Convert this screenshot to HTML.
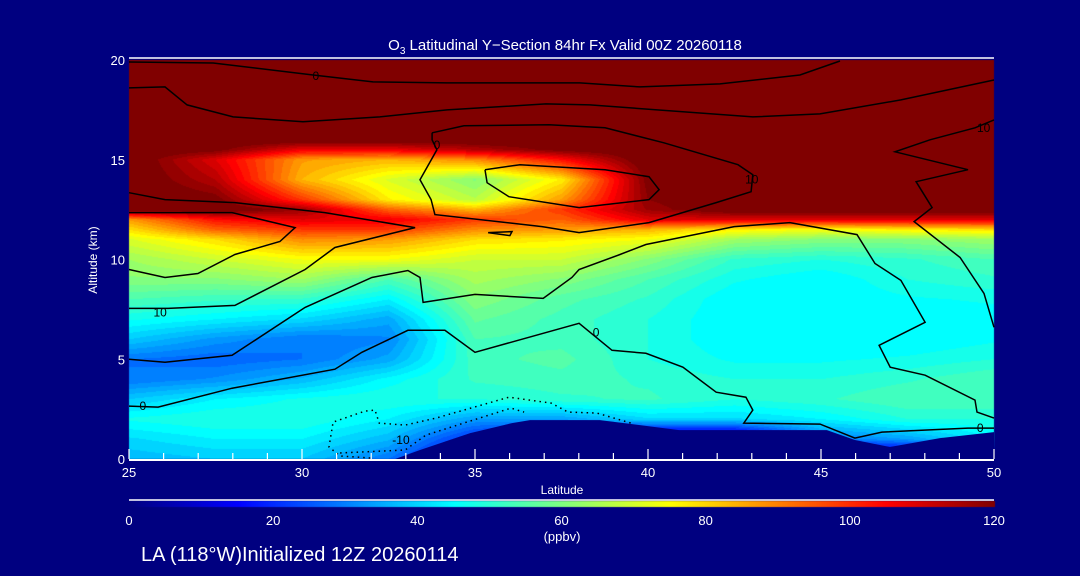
<!DOCTYPE html>
<html><head><meta charset="utf-8">
<style>
html,body{margin:0;padding:0;background:#000080;}
#wrap{position:relative;width:1080px;height:576px;background:#000080;overflow:hidden;font-family:"Liberation Sans",sans-serif;}
canvas,svg{position:absolute;left:0;top:0;}
</style></head>
<body>
<div id="wrap">
<canvas id="cv" width="1080" height="576"></canvas>
<svg id="sv" width="1080" height="576" xmlns="http://www.w3.org/2000/svg"></svg>
</div>
<script>
const lats = [25,27.5,30,32.5,35,37.5,40,42.5,45,47.5,50];
const alts = [0,1,2,3,4,5,6,7,8,9,10,11,11.5,12,12.5,13,14,15,15.5,16,18,20];
const o3 = [
[38,40,40,30,10,0,0,0,0,0,0],
[42,45,45,38,20,10,0,0,30,35,45],
[48,50,50,45,35,35,42,42,45,50,50],
[40,45,48,50,50,52,53,50,52,55,55],
[30,33,38,46,53,54,52,50,50,52,55],
[30,28,30,36,54,56,50,47,47,48,50],
[40,34,30,32,55,54,50,45,45,45,47],
[48,45,42,36,58,54,50,45,45,45,46],
[55,53,52,45,62,56,52,45,45,47,48],
[62,62,65,55,66,62,55,48,45,50,52],
[65,70,75,75,70,70,62,52,50,52,55],
[72,80,90,88,80,78,75,65,62,62,65],
[80,95,100,100,90,88,85,78,75,78,80],
[88,105,110,108,100,95,110,110,110,110,110],
[125,125,118,95,85,100,118,125,125,125,125],
[125,122,100,78,68,88,120,125,125,125,125],
[125,115,85,72,62,78,122,125,125,125,125],
[125,110,88,85,90,105,125,125,125,125,125],
[125,122,108,108,115,122,125,125,125,125,125],
[125,125,125,125,125,125,125,125,125,125,125],
[125,125,125,125,125,125,125,125,125,125,125],
[125,125,125,125,125,125,125,125,125,125,125]
];
const terrain = [[32.69,0],[33.41,0.45],[34.86,1.3],[36.07,1.8],[36.59,1.95],[38.61,1.95],[40.9,1.45],[45.17,1.45],[45.98,0.95],[46.99,0.6],[48.44,1.05],[50,1.35]];
const contourA = [[25,19.9],[27.43,19.85],[30.32,19.25],[32.05,18.9],[34.19,18.85],[38.03,18.85],[39.77,18.65],[42.08,18.8],[44.39,19.25],[45.55,19.95]];
const contourB = [[25,18.6],[26.04,18.65],[26.68,17.75],[28.01,17.15],[30.03,16.9],[32.25,17.15],[34.19,17.5],[37.05,17.8],[38.32,17.75],[43.03,17.15],[44.97,17.3],[47.31,18.0],[50,19.0]];
const contourC = [[33.76,16.35],[34.68,16.7],[37.14,16.75],[38.76,16.6],[40.46,15.85],[42.6,14.75],[43.03,14.25],[42.98,13.4],[41.97,12.85],[40.03,11.85],[38.01,11.35],[36.94,11.65],[33.84,12.25],[33.73,13.0],[33.41,14.0],[33.9,15.5],[33.76,16.0],[33.76,16.35]];
const contourD = [[35.29,14.5],[36.3,14.75],[38.76,14.5],[40.03,14.15],[40.32,13.5],[40.03,13.0],[38.01,12.6],[35.98,13.15],[35.35,13.85],[35.29,14.5]];
const contourE = [[25,13.35],[26.04,13.0],[28.06,12.85],[30.66,12.35],[33.27,11.6],[30.95,10.6],[30.09,9.5],[28.06,7.7],[26.13,7.55],[25,7.55]];
const contourF = [[25,12.35],[27.98,12.35],[29.8,11.6],[29.36,10.9],[28.06,10.25],[26.99,9.3],[26.04,9.1],[25,9.5]];
const contourG = [[35.38,11.35],[36.07,11.4],[36.01,11.2],[35.38,11.35]];
const contourH = [[25,5.0],[26.04,4.85],[27.98,5.2],[30.09,7.6],[32.02,9.1],[33.06,9.45],[33.41,9.1],[33.5,7.85],[35,8.25],[36.97,8.05],[37.8,9.1],[38.01,9.5],[39.19,10.25],[39.94,10.75],[42.49,11.65],[44.1,11.85],[46.04,11.25],[46.56,9.8],[47.31,8.95],[48.01,6.85],[46.68,5.7],[47.0,4.6],[48.01,4.2],[49.45,2.95],[49.51,2.35],[50,2.05]];
const contourI = [[25,2.65],[25.84,2.6],[27.98,3.55],[30.95,4.5],[31.73,5.35],[33.06,6.45],[34.13,6.45],[35,5.35],[38.01,6.8],[38.96,5.45],[39.94,5.3],[41.01,4.6],[41.97,3.35],[42.83,3.1],[43.03,2.45],[42.77,1.8],[44.97,1.75],[45.98,1.05],[46.76,1.35],[49.25,1.55],[50,1.55]];
const contourJ = [[50,17.0],[49.45,16.6],[48.15,16.0],[47.14,15.4],[49.25,14.5],[47.75,13.9],[48.21,12.6],[47.69,11.9],[49.02,10.1],[49.71,8.3],[50,6.6]];
const dottedOuter = [[31.97,0.05],[31.1,0.15],[30.78,0.6],[30.9,1.85],[31.82,2.4],[32.11,2.45],[32.23,1.8],[32.98,1.7],[33.87,2.05],[35.98,3.1],[37.2,2.8],[37.69,2.35],[38.53,2.3],[39.51,1.8]];
const dottedInner = [[31.1,0.3],[32.98,0.45],[33.58,1.2],[36.04,2.55],[36.42,2.35]];
const contourLabels = [["0",30.4,19.2],["0",33.9,15.75],["10",43.0,14.0],["10",49.7,16.6],["10",25.9,7.35],["0",38.5,6.35],["0",25.4,2.65],["0",49.6,1.55],["-10",32.86,0.95]];
const xTicks = [25,30,35,40,45,50];
const yTicks = [0,5,10,15,20];
const cbTicks = [0,20,40,60,80,100,120];

const X0=129,X1=994,Y0=459,Y1=60;
const xs = lat => X0 + (lat-25)/25*(X1-X0);
const ys = alt => Y0 - alt/20*(Y0-Y1);
function jet(v){
  let t=Math.max(0,Math.min(1,v/120));
  const c=a=>Math.round(255*Math.max(0,Math.min(1,a)));
  return [c(1.5-Math.abs(4*t-3)),c(1.5-Math.abs(4*t-2)),c(1.5-Math.abs(4*t-1))];
}
function field(lat,alt){
  let i=Math.min(lats.length-2,Math.max(0,Math.floor((lat-25)/2.5)));
  let fx=(lat-lats[i])/(lats[i+1]-lats[i]);
  let j=0; while(j<alts.length-2 && alt>alts[j+1]) j++;
  let fy=(alt-alts[j])/(alts[j+1]-alts[j]);
  fx=Math.max(0,Math.min(1,fx)); fy=Math.max(0,Math.min(1,fy));
  const a=o3[j][i],b=o3[j][i+1],c=o3[j+1][i],d=o3[j+1][i+1];
  return (a*(1-fx)+b*fx)*(1-fy)+(c*(1-fx)+d*fx)*fy;
}
const cvs=document.getElementById('cv'),ctx=cvs.getContext('2d');
const imgData=ctx.createImageData(X1-X0,Y0-Y1);
for(let py=0;py<Y0-Y1;py++){for(let px=0;px<X1-X0;px++){
  const lat=25+(px+0.5)/(X1-X0)*25, alt=(Y0-Y1-py-0.5)/(Y0-Y1)*20;
  let v=field(lat,alt); v=Math.floor(v/2.5)*2.5;
  const c=jet(v),k=(py*(X1-X0)+px)*4;
  imgData.data[k]=c[0];imgData.data[k+1]=c[1];imgData.data[k+2]=c[2];imgData.data[k+3]=255;
}}
ctx.putImageData(imgData,X0,Y1);
for(let px=X0;px<=X1;px++){const c=jet((px-X0)/(X1-X0)*120);ctx.fillStyle=`rgb(${c[0]},${c[1]},${c[2]})`;ctx.fillRect(px,501,1,6);}

const svgEl=document.getElementById('sv');const NS='http://www.w3.org/2000/svg';
function mk(tag,attrs,parent){const e=document.createElementNS(NS,tag);for(const k in attrs)e.setAttribute(k,attrs[k]);(parent||svgEl).appendChild(e);return e;}
function pts(arr){return arr.map(p=>xs(p[0]).toFixed(1)+','+ys(p[1]).toFixed(1)).join(' ');}
const tp=[[terrain[0][0],0]].concat(terrain,[[50,0]]);
const terrainPoly=mk('polygon',{points:pts(tp),fill:'#000080'});


const solidLines=[['contour-top-0',contourA],['contour-upper',contourB],['contour-loop-0',contourC],['contour-inner-loop',contourD],['contour-10-left',contourE],['contour-left-upper',contourF],['contour-small',contourG],['contour-10-mid',contourH],['contour-0-low',contourI],['contour-10-right',contourJ]];
for(const [n,arr] of solidLines){
  const e=mk('polyline',{points:pts(arr),fill:'none',stroke:'#000','stroke-width':1.5});
  
  
}
for(const [n,arr] of [['contour-neg10-outer',dottedOuter],['contour-neg10-inner',dottedInner]]){
  const e=mk('polyline',{points:pts(arr),fill:'none',stroke:'#000','stroke-width':1.5,'stroke-dasharray':'1.5 4'});
  
  
}
for(const [t,la,al] of contourLabels){
  const e=mk('text',{x:xs(la),y:ys(al)+4,'text-anchor':'middle','font-size':12,fill:'#000','font-family':'Liberation Sans, sans-serif'});
  e.textContent=t;
  
  
}
const topAxisLine=mk('line',{x1:X0,y1:58,x2:X1,y2:58,stroke:'#fff','stroke-width':1.5});


const bottomAxisLine=mk('line',{x1:X0,y1:Y0+1,x2:X1,y2:Y0+1,stroke:'#fff','stroke-width':2});


for(let d=25;d<=50;d++){
  const major=(d%5===0);
  const e=mk('line',{x1:xs(d),y1:Y0,x2:xs(d),y2:Y0-(major?10:6),stroke:'#fff','stroke-width':1.2});
  
  
}
for(const t of xTicks){
  const e=mk('text',{x:xs(t),y:477,'text-anchor':'middle','font-size':13,fill:'#fff'});
  e.textContent=t;
  
  
}
for(const t of yTicks){
  const e=mk('text',{x:125,y:ys(t)+5,'text-anchor':'end','font-size':13,fill:'#fff'});
  e.textContent=t;
  
  
}
const cbLine=mk('line',{x1:X0,y1:500,x2:X1,y2:500,stroke:'#fff','stroke-width':1.5});


for(const t of cbTicks){
  const e=mk('text',{x:X0+t/120*(X1-X0),y:525,'text-anchor':'middle','font-size':13,fill:'#fff'});
  e.textContent=t;
  
  
}
</script>
<svg width="1080" height="576" style="position:absolute;left:0;top:0">
<text x="565" y="50" text-anchor="middle" font-size="15" fill="#fff" font-family="Liberation Sans, sans-serif">O<tspan font-size="10" dy="4">3</tspan><tspan dy="-4"> Latitudinal Y−Section 84hr  Fx Valid 00Z 20260118</tspan></text>
<text x="97" y="260" text-anchor="middle" font-size="12" fill="#fff" transform="rotate(-90 97 260)" font-family="Liberation Sans, sans-serif">Altitude (km)</text>
<text x="562" y="494" text-anchor="middle" font-size="12" fill="#fff" font-family="Liberation Sans, sans-serif">Latitude</text>
<text x="562" y="541" text-anchor="middle" font-size="13" fill="#fff" font-family="Liberation Sans, sans-serif">(ppbv)</text>
<text x="141" y="561" font-size="20" fill="#fff" font-family="Liberation Sans, sans-serif">LA (118°W)Initialized 12Z 20260114</text>
</svg>
</body></html>
